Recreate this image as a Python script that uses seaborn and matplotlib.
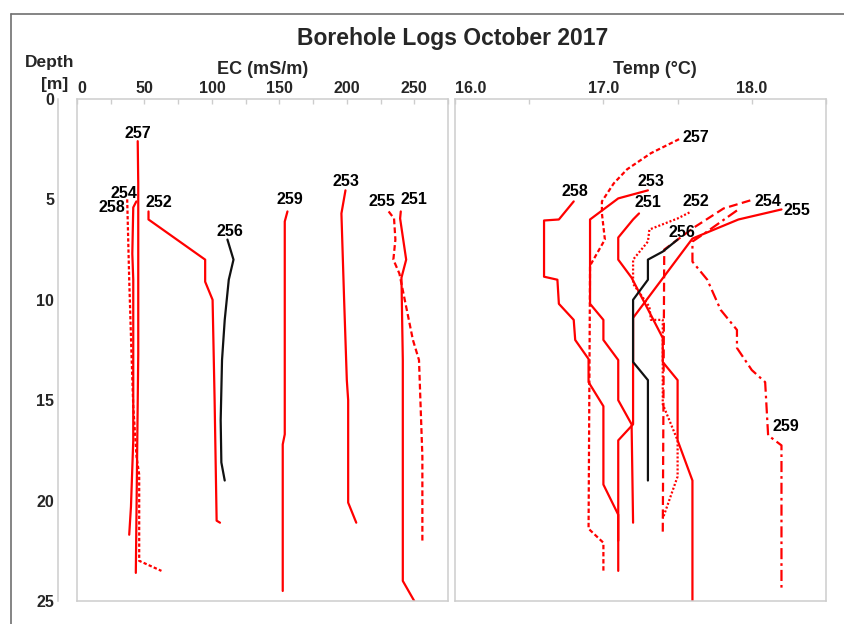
"""
Borehole logs, October 2017: EC and temperature profiles against depth.
"""

import matplotlib
matplotlib.use("Agg")
import matplotlib.pyplot as plt
from matplotlib.lines import Line2D
import seaborn as sns

# ─────────────────────────────────────────────────────────────────────────────
# DATA (depth in m)
# ─────────────────────────────────────────────────────────────────────────────
WELLS = ["251", "252", "253", "254", "255", "256", "257", "258", "259"]

# EC (mS/m)
EC_251_D = [5.6, 5.95, 8.0, 8.9, 13.0, 24.0, 25.0]
EC_251_V = [240, 239.5, 244, 240.5, 241.5, 241.5, 250]
EC_252_D = [5.6, 6.0, 8.0, 9.1, 10.0, 15.0, 21.0, 21.1]
EC_252_V = [53, 53, 95, 95, 100.5, 102, 103.5, 106]
EC_253_D = [4.55, 5.7, 10.0, 14.0, 15.0, 20.1, 21.1]
EC_253_V = [199, 196, 198, 200, 201, 201, 207]
EC_254_D = [5.1, 5.4, 7.7, 9.0, 12.0, 17.0, 20.3, 21.7]
EC_254_V = [44, 41.7, 41, 41.7, 41.7, 41.7, 40, 38.7]
EC_255_D = [5.6, 5.95, 7.0, 8.0, 8.7, 12.0, 13.0, 17.8, 22.0]
EC_255_V = [231, 235, 236, 234.5, 239, 249, 253.5, 256, 256]
EC_256_D = [7.0, 8.0, 9.0, 11.0, 13.0, 16.0, 18.1, 19.0]
EC_256_V = [111.5, 116, 112.5, 109.5, 107.5, 106.5, 107, 109.5]
EC_257_D = [2.1, 4.2, 12.7, 23.6]
EC_257_V = [45, 45.4, 45.4, 43.6]
EC_258_D = [5.0, 9.0, 12.7, 15.3, 17.8, 18.7, 23.0, 23.5]
EC_258_V = [37.2, 38.7, 40.4, 41.7, 44.1, 46.1, 46.1, 62.6]
EC_259_D = [5.6, 6.1, 16.7, 17.2, 24.5]
EC_259_V = [156, 154, 154, 152.5, 152.5]

# Temperature (°C)
T_251_D = [5.7, 6.0, 6.9, 8.0, 8.9, 11.9, 13.1, 14.0, 17.0, 19.0, 25.0]
T_251_V = [17.24, 17.20, 17.10, 17.10, 17.19, 17.40, 17.40, 17.50, 17.50, 17.60, 17.60]
T_252_D = [5.65, 5.95, 6.5, 7.1, 8.0, 9.2, 10.35, 11.0, 11.0, 15.2, 17.0, 18.8, 20.9]
T_252_V = [17.58, 17.50, 17.31, 17.30, 17.20, 17.20, 17.31, 17.32, 17.40, 17.40, 17.50, 17.50, 17.40]
T_253_D = [4.55, 4.95, 6.0, 10.2, 11.0, 12.0, 13.0, 15.0, 16.2, 21.1]
T_253_V = [17.30, 17.10, 16.91, 16.91, 17.00, 17.00, 17.10, 17.10, 17.19, 17.20]
T_254_D = [5.05, 5.45, 6.4, 7.5, 21.7]
T_254_V = [17.99, 17.81, 17.61, 17.41, 17.40]
T_255_D = [5.5, 6.0, 6.95, 10.9, 16.2, 17.0, 22.0]
T_255_V = [18.20, 17.91, 17.60, 17.20, 17.20, 17.10, 17.10]
T_256_D = [7.0, 7.6, 8.0, 9.0, 10.0, 13.1, 14.0, 19.0]
T_256_V = [17.50, 17.40, 17.30, 17.30, 17.20, 17.20, 17.30, 17.30]
T_257_D = [2.0, 2.7, 3.5, 4.2, 5.1, 5.7, 7.0, 8.3, 21.4, 22.1, 23.5]
T_257_V = [17.51, 17.32, 17.16, 17.07, 16.99, 16.99, 17.01, 16.91, 16.90, 17.00, 17.00]
T_258_D = [5.1, 6.0, 6.05, 8.85, 9.0, 10.2, 11.0, 12.0, 12.95, 14.1, 15.3, 19.2, 20.7, 23.5]
T_258_V = [16.80, 16.70, 16.60, 16.60, 16.69, 16.70, 16.80, 16.81, 16.90, 16.90, 17.00, 17.00, 17.10, 17.10]
T_259_D = [5.55, 6.7, 7.1, 8.1, 9.0, 10.5, 11.5, 12.4, 13.5, 14.1, 16.75, 17.25, 24.5]
T_259_V = [17.90, 17.68, 17.60, 17.60, 17.70, 17.79, 17.90, 17.90, 18.00, 18.09, 18.11, 18.20, 18.20]

EC_TICKS = [0, 50, 100, 150, 200, 250]
EC_TICK_LABELS = ["0", "50", "100", "150", "200", "250"]
T_TICKS = [16.0, 17.0, 18.0]
T_TICK_LABELS = ["16.0", "17.0", "18.0"]
DEPTH_TICKS = [0, 5, 10, 15, 20, 25]

EC_DATA = {
    "251": (EC_251_V, EC_251_D), "252": (EC_252_V, EC_252_D), "253": (EC_253_V, EC_253_D),
    "254": (EC_254_V, EC_254_D), "255": (EC_255_V, EC_255_D), "256": (EC_256_V, EC_256_D),
    "257": (EC_257_V, EC_257_D), "258": (EC_258_V, EC_258_D), "259": (EC_259_V, EC_259_D),
}
T_DATA = {
    "251": (T_251_V, T_251_D), "252": (T_252_V, T_252_D), "253": (T_253_V, T_253_D),
    "254": (T_254_V, T_254_D), "255": (T_255_V, T_255_D), "256": (T_256_V, T_256_D),
    "257": (T_257_V, T_257_D), "258": (T_258_V, T_258_D), "259": (T_259_V, T_259_D),
}

# ─────────────────────────────────────────────────────────────────────────────
# STYLE
# ─────────────────────────────────────────────────────────────────────────────
RED = "#ff0000"
BLACK = "#111111"
EDGE = "#cdcdcd"
LW = 1.6

SOLID = "-"
EC_STYLES = {w: (RED, SOLID) for w in WELLS}
EC_STYLES["256"] = (BLACK, SOLID)
EC_STYLES["258"] = (RED, (0, (1.5, 1.0)))
EC_STYLES["255"] = (RED, (0, (2.6, 1.4)))

T_STYLES = {w: (RED, SOLID) for w in WELLS}
T_STYLES["256"] = (BLACK, SOLID)
T_STYLES["257"] = (RED, (0, (2.0, 1.2)))
T_STYLES["252"] = (RED, (0, (0.9, 0.9)))
T_STYLES["254"] = (RED, (0, (4.0, 2.0)))
T_STYLES["259"] = (RED, (0, (5.0, 1.8, 1.2, 1.8)))

# label offsets in pixels from the anchor point (x right, y down); anchor index
EC_LABELS = {
    "251": (0, 13, -11.6), "252": (0, 10.6, -8.8), "253": (0, 0.7, -9.3),
    "254": (0, -12.8, -8.3), "255": (0, -6.3, -10.3), "256": (0, 3, -8.4),
    "257": (0, 0.5, -7.5), "258": (0, -15.3, 7.7), "259": (0, 2.4, -11.6),
}
T_LABELS = {
    "251": (0, 9.3, -10.8), "252": (0, 6.2, -11.3), "253": (0, 2.6, -9.3),
    "254": (0, 17.3, 0.7), "255": (0, 15.7, 1.0), "256": (0, 4.7, -7.0),
    "257": (0, 16.5, -1.6), "258": (0, 1.1, -10.3), "259": (10, 18.2, -9.0),
}

sns.set_theme(style="white")
plt.rcParams["font.family"] = ["Liberation Sans", "DejaVu Sans"]
plt.rcParams["font.weight"] = "bold"

W, H = 844, 624
fig = plt.figure(figsize=(W / 100, H / 100), dpi=100)


def px_box(x0, y0, x1, y1):
    return [x0 / W, 1 - y1 / H, (x1 - x0) / W, (y1 - y0) / H]


ax_ec = fig.add_axes(px_box(77, 99, 448, 601))
ax_t = fig.add_axes(px_box(455, 99, 826, 601))
ax_d = fig.add_axes(px_box(58.5, 99, 70, 601))


def draw_panel(ax, data, styles, labels):
    for well in WELLS:
        vals, depths = data[well]
        color, ls = styles[well]
        sns.lineplot(x=vals, y=depths, ax=ax, color=color, linewidth=LW,
                     linestyle=ls, estimator=None, sort=False, legend=False)
        idx, dx, dy = labels[well]
        ax.annotate(well, xy=(vals[idx], depths[idx]), xytext=(dx * 0.72, -dy * 0.72),
                    textcoords="offset points", ha="center", va="center",
                    fontsize=11.5, fontweight="bold", color="black")


def style_panel(ax, xlim, ticks, tick_labels, minor):
    ax.set_xlim(*xlim)
    ax.set_ylim(25, 0)
    ax.set_xlabel("")
    ax.set_ylabel("")
    ax.xaxis.set_ticks_position("top")
    ax.set_xticks(ticks, tick_labels, fontsize=11.5, fontweight="bold")
    ax.set_xticks(minor, minor=True)
    ax.tick_params(axis="x", which="both", direction="in", length=3.6, width=1,
                   color=EDGE, pad=2)
    ax.set_yticks([])
    ax.get_xticklabels()[0].set_ha("left")
    for sp in ax.spines.values():
        sp.set_color(EDGE)
        sp.set_linewidth(1.1)
        sp.set_visible(True)


draw_panel(ax_ec, EC_DATA, EC_STYLES, EC_LABELS)
draw_panel(ax_t, T_DATA, T_STYLES, T_LABELS)
style_panel(ax_ec, (0, 275), EC_TICKS, EC_TICK_LABELS, [25, 75, 125, 175, 225, 275])
style_panel(ax_t, (16.0, 18.5), T_TICKS, T_TICK_LABELS, [16.5, 17.5, 18.5])

# depth axis on its own thin axes
ax_d.set_ylim(25, 0)
ax_d.set_xticks([])
ax_d.set_yticks(DEPTH_TICKS, [str(t) for t in DEPTH_TICKS], fontsize=11.5, fontweight="bold")
ax_d.tick_params(axis="y", direction="in", length=8.3, width=1, color=EDGE, pad=3.2)
ax_d.patch.set_visible(False)
for name, sp in ax_d.spines.items():
    sp.set_visible(name == "left")
    sp.set_color(EDGE)
    sp.set_linewidth(1.1)

# titles
fig.text(453 / W, 1 - 39 / H, "Borehole Logs October 2017", ha="center", va="center",
         fontsize=16.5, fontweight="bold")
fig.text(263 / W, 1 - 69 / H, "EC (mS/m)", ha="center", va="center", fontsize=13, fontweight="bold")
fig.text(655 / W, 1 - 69 / H, "Temp (°C)", ha="center", va="center", fontsize=13, fontweight="bold")
fig.text(50 / W, 1 - 62 / H, "Depth", ha="center", va="center", fontsize=12.5, fontweight="bold")
fig.text(68 / W, 1 - 85 / H, "[m]", ha="right", va="center", fontsize=12.5, fontweight="bold")

# outer frame (top and left edges visible)
fig.add_artist(Line2D([11 / W, 1], [1 - 14 / H, 1 - 14 / H], transform=fig.transFigure,
                      color="#707070", linewidth=1.2))
fig.add_artist(Line2D([11 / W, 11 / W], [0, 1 - 14 / H], transform=fig.transFigure,
                      color="#707070", linewidth=1.2))

fig.savefig("out.png", dpi=100)
plt.close(fig)
